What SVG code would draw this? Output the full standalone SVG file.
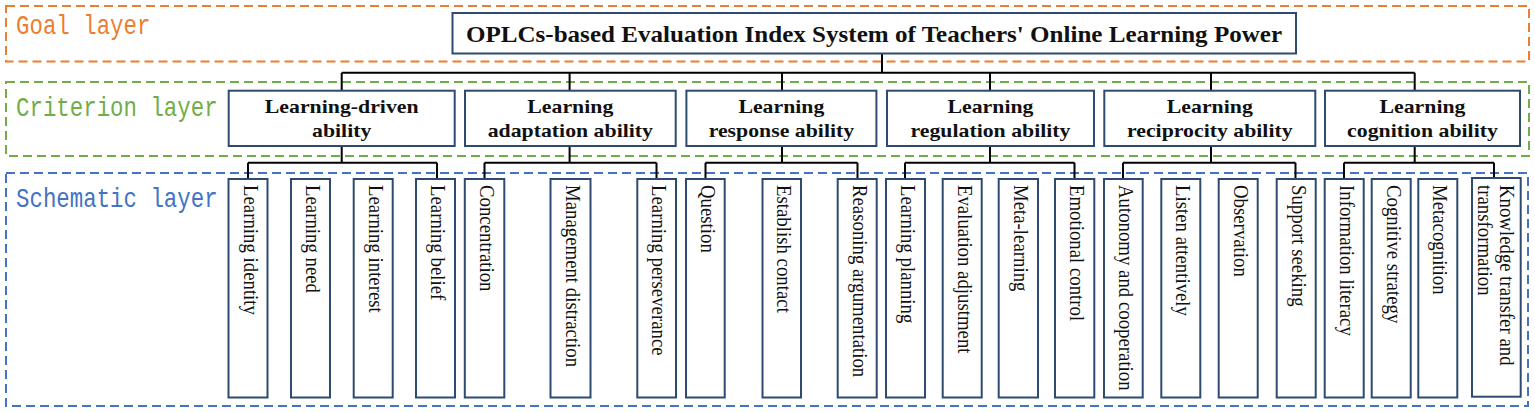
<svg xmlns="http://www.w3.org/2000/svg" width="1535" height="412" viewBox="0 0 1535 412">
<style>
.layer{fill:none;stroke-width:2;stroke-dasharray:9 5}
.lbl{font-family:"Liberation Mono",monospace;font-size:22.4px}
.box{fill:#fff;stroke:#2F4A70;stroke-width:2}
.ct{font-family:"Liberation Serif",serif;font-weight:bold;font-size:19.3px;fill:#111;text-anchor:middle}
.lt{font-family:"Liberation Serif",serif;font-size:18.8px;fill:#111}
.conn{fill:none;stroke:#000;stroke-width:2}
</style>
<rect width="1535" height="412" fill="#fff"/>
<g id="layers">
<rect class="layer" x="6" y="6" width="1523" height="55.5" stroke="#ED7D31"/>
<rect class="layer" x="6" y="82" width="1523" height="74" stroke="#70AD47"/>
<rect class="layer" x="6" y="173" width="1522" height="233" stroke="#4472C4"/>
<text class="lbl" fill="#ED7D31" transform="translate(16,34.3) scale(1,1.2)">Goal layer</text>
<text class="lbl" fill="#70AD47" transform="translate(16,116) scale(1,1.2)">Criterion layer</text>
<text class="lbl" fill="#4472C4" transform="translate(16,206.7) scale(1,1.2)">Schematic layer</text>
</g>
<g id="connectors">
<path class="conn" d="M882,53.3V72.7M341.7,72.7H1414.7M341.7,72.7V90.7M569.6,72.7V90.7M782,72.7V90.7M990,72.7V90.7M1211,72.7V90.7M1414.7,72.7V90.7"/>
<path class="conn" d="M341.7,146V162.7M248,162.7H437M248,162.7V179M437,162.7V179"/>
<path class="conn" d="M569.6,146V162.7M484.5,162.7H656.5M484.5,162.7V179M656.5,162.7V179"/>
<path class="conn" d="M782,146V162.7M705.5,162.7H857.5M705.5,162.7V179M857.5,162.7V179"/>
<path class="conn" d="M990,146V162.7M905,162.7H1074.5M905,162.7V179M1074.5,162.7V179"/>
<path class="conn" d="M1211,146V162.7M1123,162.7H1295.5M1123,162.7V179M1295.5,162.7V179"/>
<path class="conn" d="M1414.7,146V162.7M1344,162.7H1494M1344,162.7V178M1494,162.7V178"/>
</g>
<g id="goal">
<rect class="box" x="452.5" y="13" width="843.5" height="40.5"/>
<text class="ct" font-size="22.2" style="font-size:22.2px" transform="translate(874,42) scale(1.13,1)">OPLCs-based Evaluation Index System of Teachers' Online Learning Power</text>
</g>
<g id="c1"><rect class="box" x="228.7" y="90.7" width="226" height="55.3"/><text class="ct" transform="translate(341.7,0) scale(1.13,1)"><tspan x="0" y="113.3">Learning-driven</tspan><tspan x="0" y="137.3">ability</tspan></text></g>
<g id="c2"><rect class="box" x="465" y="90.7" width="210.7" height="55.3"/><text class="ct" transform="translate(570.3,0) scale(1.13,1)"><tspan x="0" y="113.3">Learning</tspan><tspan x="0" y="137.3">adaptation ability</tspan></text></g>
<g id="c3"><rect class="box" x="686.4" y="90.7" width="190" height="55.3"/><text class="ct" transform="translate(781.4,0) scale(1.13,1)"><tspan x="0" y="113.3">Learning</tspan><tspan x="0" y="137.3">response ability</tspan></text></g>
<g id="c4"><rect class="box" x="887" y="90.7" width="207" height="55.3"/><text class="ct" transform="translate(990.5,0) scale(1.13,1)"><tspan x="0" y="113.3">Learning</tspan><tspan x="0" y="137.3">regulation ability</tspan></text></g>
<g id="c5"><rect class="box" x="1104.3" y="90.7" width="211" height="55.3"/><text class="ct" transform="translate(1209.8,0) scale(1.13,1)"><tspan x="0" y="113.3">Learning</tspan><tspan x="0" y="137.3">reciprocity ability</tspan></text></g>
<g id="c6"><rect class="box" x="1325" y="90.7" width="195" height="55.3"/><text class="ct" transform="translate(1422.5,0) scale(1.13,1)"><tspan x="0" y="113.3">Learning</tspan><tspan x="0" y="137.3">cognition ability</tspan></text></g>
<g id="l1"><rect class="box" x="228.5" y="179" width="39" height="218.5"/><text class="lt" transform="translate(243.5,185) rotate(90) scale(1,1.15)">Learning identity</text></g>
<g id="l2"><rect class="box" x="291" y="179" width="39" height="218.5"/><text class="lt" transform="translate(306,185) rotate(90) scale(1,1.15)">Learning need</text></g>
<g id="l3"><rect class="box" x="353.7" y="179" width="39" height="218.5"/><text class="lt" transform="translate(368.7,185) rotate(90) scale(1,1.15)">Learning interest</text></g>
<g id="l4"><rect class="box" x="416" y="179" width="39" height="218.5"/><text class="lt" transform="translate(431,185) rotate(90) scale(1,1.15)">Learning belief</text></g>
<g id="l5"><rect class="box" x="464.8" y="179" width="39.5" height="218.5"/><text class="lt" transform="translate(480,185) rotate(90) scale(1,1.15)">Concentration</text></g>
<g id="l6"><rect class="box" x="550.5" y="179" width="40" height="218.5"/><text class="lt" transform="translate(566,185) rotate(90) scale(1,1.15)">Management distraction</text></g>
<g id="l7"><rect class="box" x="637.3" y="179" width="38.7" height="218.5"/><text class="lt" transform="translate(652.2,185) rotate(90) scale(1,1.15)">Learning perseverance</text></g>
<g id="l8"><rect class="box" x="686" y="179" width="38.7" height="218.5"/><text class="lt" transform="translate(700.8,185) rotate(90) scale(1,1.15)">Question</text></g>
<g id="l9"><rect class="box" x="762.5" y="179" width="38.5" height="218.5"/><text class="lt" transform="translate(777.3,185) rotate(90) scale(1,1.15)">Establish contact</text></g>
<g id="l10"><rect class="box" x="837.7" y="179" width="39" height="218.5"/><text class="lt" transform="translate(852.7,185) rotate(90) scale(1,1.15)">Reasoning argumentation</text></g>
<g id="l11"><rect class="box" x="886" y="179" width="39" height="218.5"/><text class="lt" transform="translate(901,185) rotate(90) scale(1,1.15)">Learning planning</text></g>
<g id="l12"><rect class="box" x="942.7" y="179" width="39" height="218.5"/><text class="lt" transform="translate(957.7,185) rotate(90) scale(1,1.15)">Evaluation adjustment</text></g>
<g id="l13"><rect class="box" x="998.7" y="179" width="39.3" height="218.5"/><text class="lt" transform="translate(1013.8,185) rotate(90) scale(1,1.15)">Meta-learning</text></g>
<g id="l14"><rect class="box" x="1055" y="179" width="39.3" height="218.5"/><text class="lt" transform="translate(1070.2,185) rotate(90) scale(1,1.15)">Emotional control</text></g>
<g id="l15"><rect class="box" x="1104" y="179" width="38.7" height="218.5"/><text class="lt" transform="translate(1118.8,185) rotate(90) scale(1,1.15)">Autonomy and cooperation</text></g>
<g id="l16"><rect class="box" x="1161.3" y="179" width="39" height="218.5"/><text class="lt" transform="translate(1176.3,185) rotate(90) scale(1,1.15)">Listen attentively</text></g>
<g id="l17"><rect class="box" x="1218.7" y="179" width="39" height="218.5"/><text class="lt" transform="translate(1233.7,185) rotate(90) scale(1,1.15)">Observation</text></g>
<g id="l18"><rect class="box" x="1276.7" y="179" width="39" height="218.5"/><text class="lt" transform="translate(1291.7,185) rotate(90) scale(1,1.15)">Support seeking</text></g>
<g id="l19"><rect class="box" x="1324.7" y="179" width="39" height="218.5"/><text class="lt" transform="translate(1339.7,185) rotate(90) scale(1,1.15)">Information literacy</text></g>
<g id="l20"><rect class="box" x="1371.7" y="179" width="39" height="218.5"/><text class="lt" transform="translate(1386.7,185) rotate(90) scale(1,1.15)">Cognitive strategy</text></g>
<g id="l21"><rect class="box" x="1418.3" y="179" width="39" height="218.5"/><text class="lt" transform="translate(1433.3,185) rotate(90) scale(1,1.15)">Metacognition</text></g>
<g id="l22"><rect class="box" x="1472" y="178" width="48.7" height="218.7"/><text class="lt" transform="translate(1500,185) rotate(90) scale(1,1.15)"><tspan x="0" y="0">Knowledge transfer and</tspan><tspan x="0" y="19.1">transformation</tspan></text></g>
</svg>
